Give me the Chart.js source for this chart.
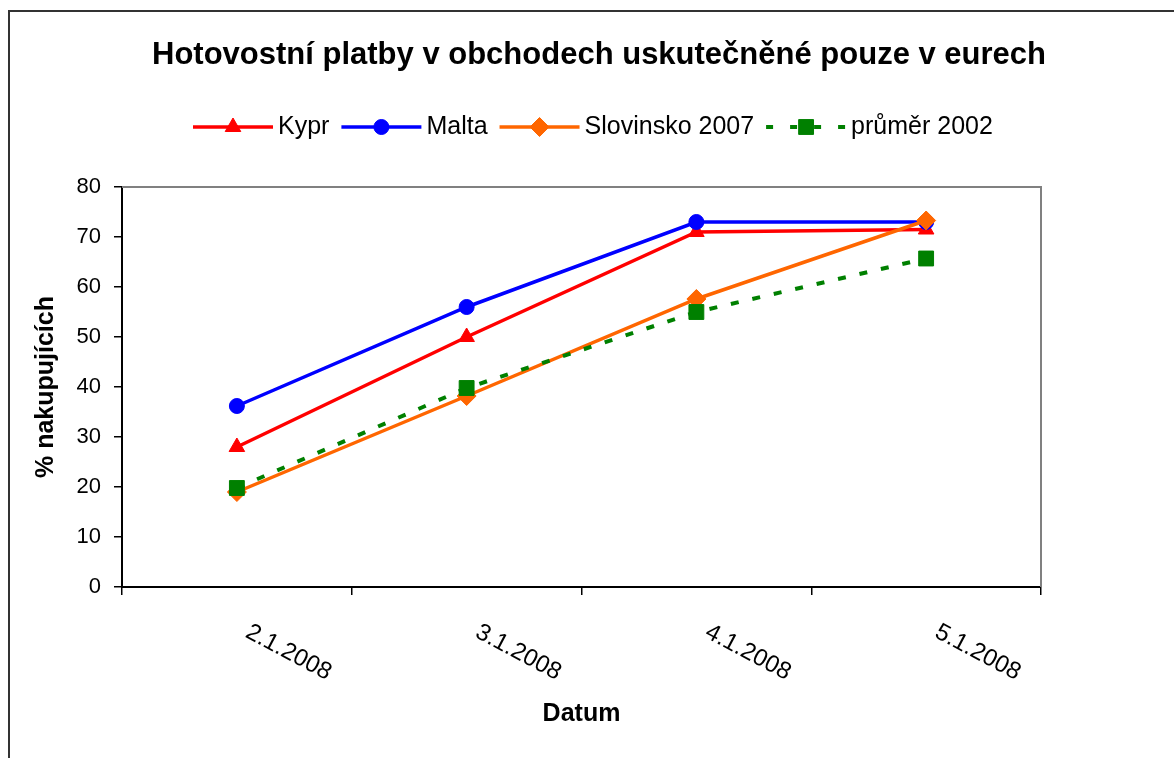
<!DOCTYPE html>
<html><head><meta charset="utf-8">
<script src="https://cdn.jsdelivr.net/npm/chart.js@4.4.0/dist/chart.umd.min.js"></script>
<style>html,body{margin:0;padding:0;background:#fff;overflow:hidden}canvas{display:block}</style>
</head><body>
<canvas id="c" width="1174" height="758"></canvas>
<script>
const titleText = 'Hotovostní platby v obchodech uskutečněné pouze v eurech';
const categories = ['2.1.2008', '3.1.2008', '4.1.2008', '5.1.2008'];
const seriesNames = ['Kypr', 'Malta', 'Slovinsko 2007', 'průměr 2002'];
const kypr = [28, 50, 71, 71.5];
const malta = [36.2, 56, 73, 73];
const slovinsko = [19, 38.2, 57.6, 73.3];
const prumer = [19.8, 39.8, 55, 65.7];
const yMin = 0, yMax = 80, yStep = 10;
const xAxisTitle = 'Datum';
const yAxisTitle = '% nakupujících';

const FONT = "'Liberation Sans', Arial, sans-serif";
Chart.defaults.font.family = FONT;
Chart.defaults.color = '#000';

const datasets = [
  {label: seriesNames[0], data: kypr, borderColor: '#ff0000', backgroundColor: '#ff0000', pointStyle: 'triangle', pointRadius: 9, borderWidth: 3.5, order: 4},
  {label: seriesNames[1], data: malta, borderColor: '#0000ff', backgroundColor: '#0000ff', pointStyle: 'circle', pointRadius: 7.5, borderWidth: 3.5, order: 3},
  {label: seriesNames[2], data: slovinsko, borderColor: '#ff6600', backgroundColor: '#ff6600', pointStyle: 'rectRot', pointRadius: 9.5, borderWidth: 3.5, order: 2},
  {label: seriesNames[3], data: prumer, borderColor: '#008000', backgroundColor: '#008000', pointStyle: 'rect', pointRadius: 10.5, borderWidth: 4, borderDash: [8, 14], order: 1}
];
datasets.forEach(d => { d.pointBorderWidth = 1; d.pointBorderColor = d.borderColor; d.pointBackgroundColor = d.backgroundColor; d.tension = 0; d.fill = false; });

const decor = {
  id: 'decor',
  beforeDraw(chart) {
    const ctx = chart.ctx;
    ctx.save();
    ctx.fillStyle = '#fff';
    ctx.fillRect(0, 0, chart.width, chart.height);
    ctx.restore();
  },
  beforeDatasetsDraw(chart) {
    const ctx = chart.ctx, a = chart.chartArea;
    ctx.save();
    ctx.strokeStyle = '#808080';
    ctx.lineWidth = 2;
    ctx.beginPath();
    ctx.moveTo(a.left, a.top);
    ctx.lineTo(a.right, a.top);
    ctx.lineTo(a.right, a.bottom);
    ctx.stroke();
    ctx.restore();
  },
  afterDraw(chart) {
    const ctx = chart.ctx;
    ctx.save();
    // outer frame
    ctx.strokeStyle = '#333';
    ctx.lineWidth = 2;
    ctx.beginPath();
    ctx.moveTo(9, chart.height);
    ctx.lineTo(9, 11);
    ctx.lineTo(chart.width, 11);
    ctx.stroke();

    // title
    ctx.fillStyle = '#000';
    ctx.font = 'bold 31px ' + FONT;
    ctx.textAlign = 'center';
    ctx.textBaseline = 'middle';
    ctx.fillText(titleText, 599, 55);

    // x tick labels (rotated clockwise)
    const xs = chart.scales.x;
    ctx.font = '24px ' + FONT;
    ctx.textAlign = 'left';
    ctx.textBaseline = 'top';
    categories.forEach((c, i) => {
      const px = xs.getPixelForValue(i);
      ctx.save();
      ctx.translate(px + 16, xs.top + 33);
      ctx.rotate(28 * Math.PI / 180);
      ctx.fillText(c, 0, 0);
      ctx.restore();
    });

    // legend
    let x = 193;
    const y = 127;
    ctx.font = '25px ' + FONT;
    ctx.textBaseline = 'middle';
    chart.data.datasets.forEach(ds => {
      ctx.save();
      ctx.strokeStyle = ds.borderColor;
      ctx.lineWidth = ds.borderWidth;
      if (ds.borderDash) { ctx.setLineDash([7, 17]); }
      ctx.beginPath();
      ctx.moveTo(x, y);
      ctx.lineTo(x + 80, y);
      ctx.stroke();
      ctx.setLineDash([]);
      ctx.fillStyle = ds.backgroundColor;
      ctx.lineWidth = 1;
      Chart.helpers.drawPoint(ctx, {pointStyle: ds.pointStyle, radius: ds.pointRadius, rotation: 0, borderWidth: 1}, x + 40, y);
      ctx.restore();
      ctx.fillStyle = '#000';
      ctx.fillText(ds.label, x + 85, y);
      x += 85 + ctx.measureText(ds.label).width + 12;
    });
    ctx.restore();
  }
};

new Chart(document.getElementById('c'), {
  type: 'line',
  data: {labels: categories, datasets: datasets},
  options: {
    responsive: false,
    animation: false,
    devicePixelRatio: 1,
    events: [],
    layout: {padding: {top: 187, right: 133, bottom: 0, left: 0}},
    plugins: {legend: {display: false}, title: {display: false}, tooltip: {enabled: false}},
    scales: {
      x: {
        type: 'category',
        offset: true,
        grid: {display: true, drawOnChartArea: false, drawTicks: true, tickLength: 8, color: '#000', lineWidth: 1.5, offset: true},
        border: {display: true, color: '#000', width: 2},
        ticks: {display: false},
        title: {display: true, text: xAxisTitle, color: '#000', font: {size: 25, weight: 'bold'}, padding: {top: 0, bottom: 29}},
        afterFit(s) { s.height = 171; }
      },
      y: {
        min: yMin, max: yMax,
        ticks: {stepSize: yStep, color: '#000', font: {size: 22}, padding: 13},
        grid: {drawOnChartArea: false, tickLength: 8, color: '#000', lineWidth: 1.5},
        border: {display: true, color: '#000', width: 2},
        title: {display: true, text: yAxisTitle, color: '#000', font: {size: 25, weight: 'bold'}, padding: {top: 31, bottom: 0}},
        afterFit(s) { s.width = 122; }
      }
    }
  },
  plugins: [decor]
});
</script>
</body></html>
